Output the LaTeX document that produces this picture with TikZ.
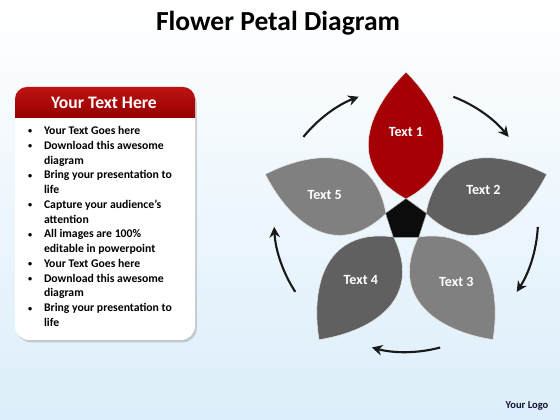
\documentclass[tikz,border=0pt]{standalone}
\usepackage{fontspec}
\setmainfont{Carlito}
\usetikzlibrary{arrows.meta, shapes.geometric, shadows}
\definecolor{petalred}{RGB}{165,0,5}
\definecolor{petaldark}{RGB}{96,96,96}
\definecolor{petallight}{RGB}{128,128,128}
\definecolor{corefill}{RGB}{12,12,12}
\definecolor{bgblue}{RGB}{220,238,250}
\definecolor{headtop}{RGB}{190,18,18}
\definecolor{headbot}{RGB}{150,0,0}
\definecolor{logoblue}{RGB}{20,20,50}
\newcommand{\bul}{\raisebox{0.5pt}{\fontsize{7}{8}\selectfont\textbullet}}

\begin{document}
\begin{tikzpicture}[x=0.3mm, y=0.3mm,
	petal/.style={draw=white!80!gray, line width=0.5pt},
	petaltext/.style={text=white, font=\fontsize{12}{14}\selectfont\bfseries},
	cycarrow/.style={line width=1.8pt, black!90, -{Stealth[length=9pt, width=9pt]}}]
	\useasboundingbox (0,0) rectangle (560,420);
	\shade[top color=white, middle color=white!55!bgblue, bottom color=bgblue] (0,0) rectangle (560,420);
	\node (title) at (278,397) {\fontsize{23.5}{28}\selectfont\bfseries Flower Petal Diagram};
	% text box
	\fill[white, rounded corners=12, drop shadow={shadow xshift=1.5pt, shadow yshift=-2pt, opacity=0.35}] (15,80) rectangle (195,333);
	\shade[top color=headtop, bottom color=headbot] (15,302) -- (15,321) arc[start angle=180, end angle=90, radius=12]
		-- (183,333) arc[start angle=90, end angle=0, radius=12] -- (195,302) -- cycle;
	\node (head) at (104,317) {\fontsize{15}{18}\selectfont\bfseries\color{white}Your Text Here};
	\node (list) [anchor=west, inner sep=0pt] at (28,192.5) {\fontsize{10}{12.6}\selectfont\bfseries
		\begin{tabular}{@{}p{13.5pt}@{}l@{}}
		\bul & Your Text Goes here\\
		\bul & Download this awesome\\
		 & diagram\\
		\bul & Bring your presentation to\\
		 & life\\
		\bul & Capture your audience’s\\
		 & attention\\
		\bul & All images are 100\%\\
		 & editable in powerpoint\\
		\bul & Your Text Goes here\\
		\bul & Download this awesome\\
		 & diagram\\
		\bul & Bring your presentation to\\
		 & life
		\end{tabular}};
	% flower
	\coordinate (c) at (406,200);
	\foreach \rot/\col in {72/petallight, 144/petaldark, -144/petallight, -72/petaldark, 0/petalred}
		\fill[petal, fill=\col, shift={(406,200)}, rotate=\rot] (0,21) .. controls (58,52) and (42,106) .. (0,148)
			.. controls (-42,106) and (-58,52) .. (0,21) -- cycle;
	\node (core) [regular polygon, regular polygon sides=5, minimum size=12.9mm, inner sep=0pt, outer sep=0pt,
		fill=corefill, draw=gray!70, line width=0.4pt] at (c) {};
	\foreach \ang/\r/\lab in {90/88/1, 21/83/2, -51/80/3, -127/75/4, 163/85/5}
		\node[petaltext] (t\lab) at ([shift={(\ang:\r)}]c) {Text \lab};
	\foreach \g in {126, 54, -18, -90, -162}
		\draw[cycarrow] ([shift={(\g+15:132)}]c) arc[start angle=\g+15, end angle=\g-15, radius=132];
	\node (logo) at (527,14) {\fontsize{9}{11}\selectfont\bfseries\color{logoblue}Your Logo};
\end{tikzpicture}
\end{document}
